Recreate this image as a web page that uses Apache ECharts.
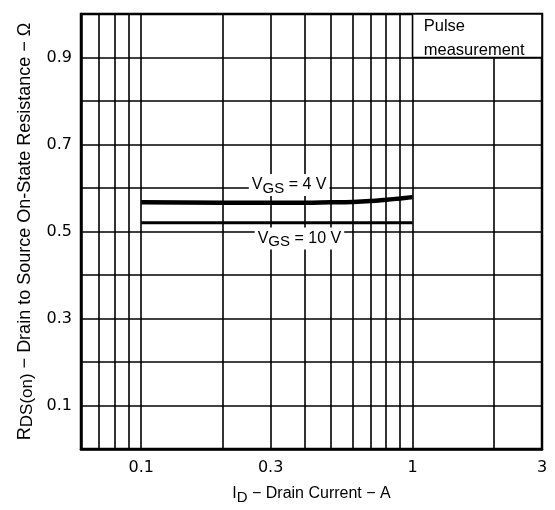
<!DOCTYPE html>
<html><head><meta charset="utf-8">
<script src="https://cdn.jsdelivr.net/npm/echarts@6/dist/echarts.min.js"></script>
<style>html,body{margin:0;padding:0;background:#fff}#c{width:555px;height:510px}</style>
</head><body><div id="c"></div>
<script>
var xGridValues = [0.06,0.07,0.08,0.09,0.1,0.2,0.3,0.4,0.5,0.6,0.7,0.8,0.9,1,2,3];
var xTickLabels = [0.1,0.3,1,3];
var yTickLabels = [0.1,0.3,0.5,0.7,0.9];
var current = [0.1,0.2,0.3,0.4,0.5,0.6,0.7,0.8,0.9,1];
var rds4V = [0.567,0.566,0.566,0.566,0.567,0.568,0.570,0.573,0.576,0.579];
var rds10V = [0.52,0.52,0.52,0.52,0.52,0.52,0.52,0.52,0.52,0.52];

var FONT = 'Liberation Sans';
var TICKFONT = 'DejaVu Sans';
var chart = echarts.init(document.getElementById('c'));
function pairs(xs, ys){ return xs.map(function(x,i){return [x, ys[i]];}); }
var subRich = {
  v:{fontSize:16,fontFamily:FONT,color:'#000'},
  s:{fontSize:15,fontFamily:FONT,color:'#000',padding:[7,0,0,0]}
};
var yRich = {
  v:{fontSize:18,fontFamily:FONT,color:'#000'},
  s:{fontSize:17,fontFamily:FONT,color:'#000',padding:[4,0,0,0]}
};
chart.setOption({
  animation:false,
  grid:{left:81,right:13,top:14,bottom:59,show:true,borderColor:'#000',borderWidth:2.5,backgroundColor:'#fff'},
  xAxis:{type:'log',logBase:10,min:0.06,max:3,
    axisLine:{show:true,lineStyle:{color:'#000',width:2.5}},
    axisTick:{show:false,customValues:xGridValues},
    axisLabel:{customValues:xTickLabels,color:'#000',fontSize:16,fontFamily:TICKFONT,margin:11,
      formatter:function(v){return String(+v.toPrecision(3));}},
    splitLine:{show:true,lineStyle:{color:'#000',width:1.6}},
    name:'{v|I}{s|D}{v| − Drain Current − A}',nameLocation:'middle',nameGap:34,
    nameTextStyle:{rich:subRich}},
  yAxis:{type:'value',min:0,max:1,interval:0.1,
    axisLine:{show:true,lineStyle:{color:'#000',width:2.5}},
    axisTick:{show:false},
    axisLabel:{customValues:yTickLabels,color:'#000',fontSize:16,fontFamily:TICKFONT,margin:9},
    splitLine:{show:true,lineStyle:{color:'#000',width:1.6}},
    name:'{v|R}{s|DS(on)}{v| − Drain to Source On-State Resistance − Ω}',nameLocation:'middle',nameGap:45,nameRotate:90,
    nameTextStyle:{rich:yRich}},
  series:[
    {type:'line',data:pairs(current,rds10V),showSymbol:false,z:3,
      lineStyle:{color:'#000',width:3},
      markPoint:{symbolSize:0,data:[{coord:[0.383,0.484],
        label:{show:true,formatter:'{v|V}{s|GS}{v| = 10 V}',rich:subRich,backgroundColor:'#fff',padding:[0,3,0,3]}}]}},
    {type:'line',data:pairs(current,rds4V),showSymbol:false,z:3,smooth:true,
      lineStyle:{color:'#000',width:4.5},
      markPoint:{symbolSize:0,data:[{coord:[0.351,0.607],
        label:{show:true,formatter:'{v|V}{s|GS}{v| = 4 V}',rich:subRich,backgroundColor:'#fff',padding:[0,3,0,3]}}]},
      markArea:{silent:true,itemStyle:{color:'#fff',borderColor:'#000',borderWidth:1.6},
        label:{show:true,position:[12,1],formatter:'Pulse\nmeasurement',color:'#000',fontSize:16.5,fontFamily:FONT,lineHeight:24},
        data:[[{coord:[1,0.9]},{coord:[3,1]}]]}}
  ]
});
</script></body></html>
